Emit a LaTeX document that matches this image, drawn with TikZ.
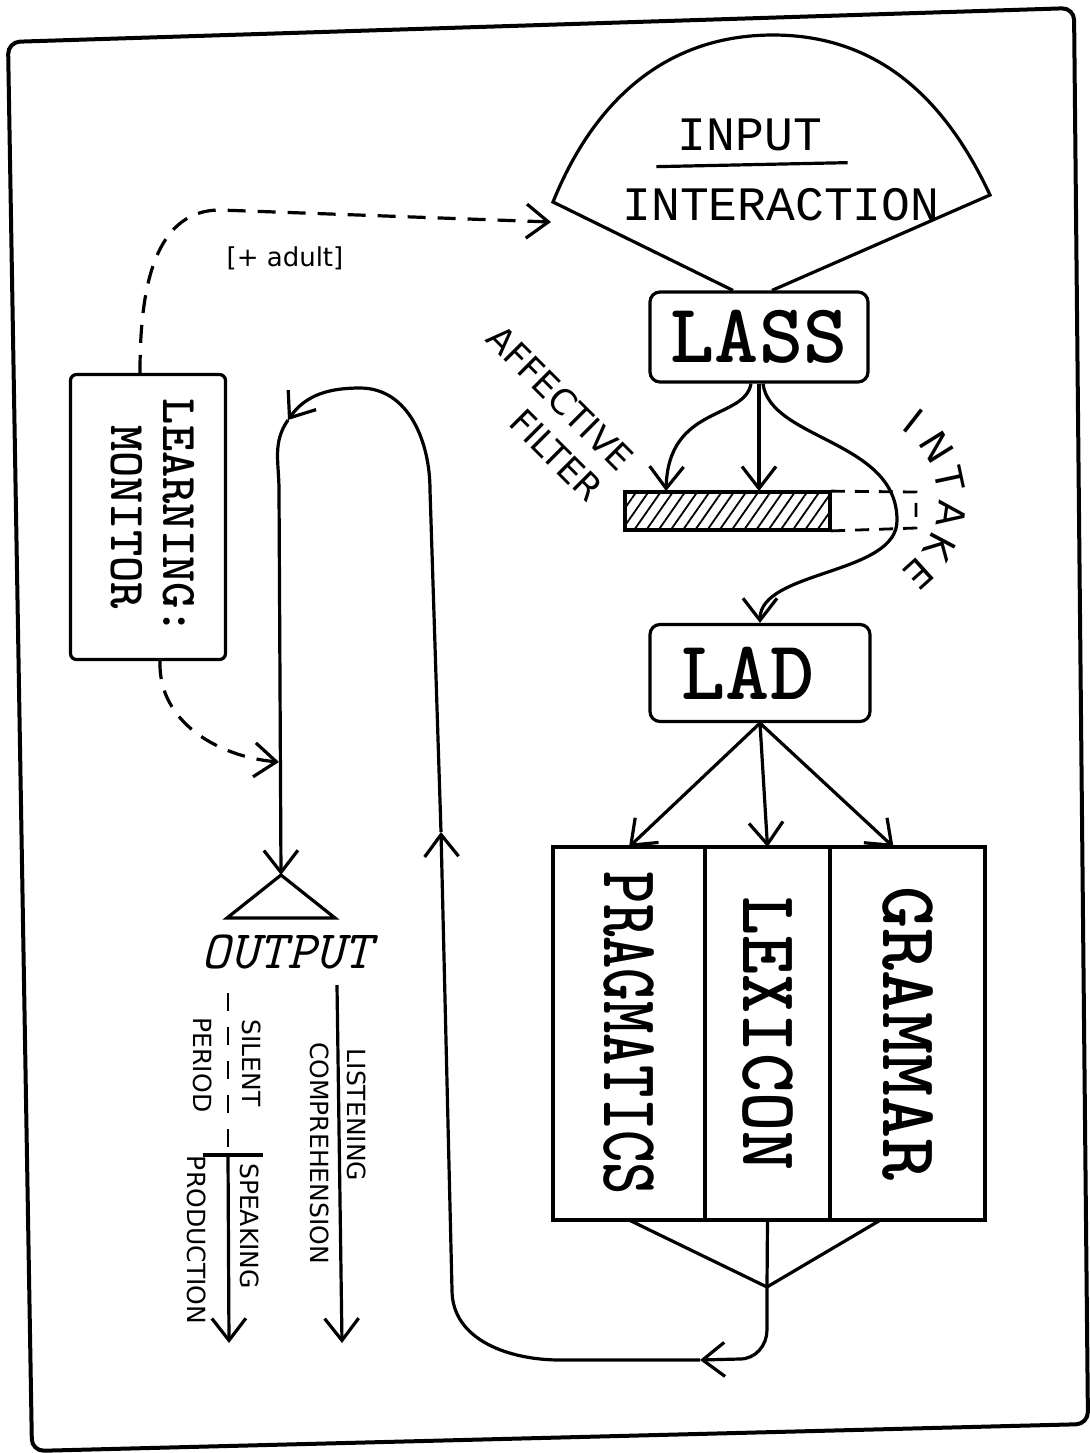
\documentclass[tikz,border=0pt]{standalone}
\usepackage{fontspec}
\usepackage{graphicx}
\usetikzlibrary{arrows.meta}
\usetikzlibrary{positioning}
\usetikzlibrary{patterns.meta}
\newfontfamily\typed{Liberation Mono}
\newfontfamily\hand{DejaVu Sans}

\begin{document}
\begin{tikzpicture}[x=0.5pt, y=0.5pt, line width=1.6pt,
  arr/.style={-{Straight Barb[length=11pt,width=17pt]}},
  dasharr/.style={arr, dash pattern=on 9pt off 6pt},
  box/.style={draw, rounded corners=5pt, inner sep=0pt},
  col/.style={draw, minimum height=186.5pt, inner sep=0pt, outer sep=0pt,
    font=\ttfamily\bfseries\fontsize{40}{40}\selectfont},
  bigtype/.style={font=\ttfamily\bfseries\fontsize{42}{42}\selectfont},
  midtype/.style={font=\typed\fontsize{24}{24}\selectfont},
  smallhand/.style={font=\hand\fontsize{12.5}{14}\selectfont, inner sep=0pt}]
\useasboundingbox (0,0) rectangle (1090,-1453);
\draw[line width=2pt, rounded corners=6pt] (8,-42) -- (1074,-8) -- (1088,-1424) -- (32,-1451) -- cycle;

\node[box, minimum width=109pt, minimum height=45pt, bigtype] (lass) at (759,-337) {LASS};
\node[box, minimum width=110pt, minimum height=48.5pt, bigtype] (lad) at (760,-673) {\hspace*{-12pt}LAD};
\node[box, rounded corners=3pt, minimum width=77.5pt, minimum height=142.5pt,
  font=\ttfamily\bfseries\fontsize{25}{26}\selectfont] (mon) at (148,-517)
  {\rotatebox{-90}{\begin{tabular}{@{}c@{}}LEARNING:\\MONITOR\end{tabular}}};

\draw ([xshift=-13pt]lass.north) -- (553,-202) to[out=68,in=180] (773,-35)
  to[out=0,in=115] (990,-195) -- ([xshift=6.5pt]lass.north);
\node[midtype, inner sep=2pt] (inpt) at (750,-135) {INPUT};
\draw ([xshift=-8pt,yshift=-5pt]inpt.south west) -- ([xshift=10pt,yshift=-3pt]inpt.south east);
\node[midtype] (inter) at (781,-205) {INTERACTION};

\node[draw, minimum width=102.5pt, minimum height=19pt, inner sep=0pt,
  pattern={Lines[angle=55,distance=5pt,line width=0.9pt]}] (filt) at (727.5,-511) {};
\draw[line width=1.4pt, dash pattern=on 7pt off 5pt] (filt.north east) -- (916,-492) -- (916,-528) -- (filt.south east);
\node[font=\hand\fontsize{17.5}{21.5}\selectfont, rotate=-45, align=right] (aff) at (545,-413) {AFFECTIVE\\FILTER};
\foreach \ch [count=\i] in {I,N,T,A,K,E}
  \path (852,-500) ++({72-20*\i}:100) node[font=\hand\fontsize{19}{19}\selectfont, rotate={-18-20*\i}] (intake\i) {\ch};

\draw[arr] ([xshift=-4pt]lass.south) .. controls (745,-420) and (668,-405) .. ([xshift=21pt]filt.north west);
\draw[arr] (lass.south) -- (lass.south |- filt.north);
\draw[arr] ([xshift=2pt]lass.south) .. controls (770,-440) and (897,-440) .. (897,-520)
  .. controls (898,-575) and (760,-570) .. (lad.north);

\node[col, minimum width=76pt] (prag) at (629,-1033.5) {\rotatebox{-90}{\scalebox{0.77}[1]{PRAGMATICS}}};
\node[col, minimum width=62.5pt, right=0pt of prag] (lex) {\rotatebox{-90}{\scalebox{0.93}[1]{LEXICON}}};
\node[col, minimum width=77.5pt, right=0pt of lex] (gram) {\rotatebox{-90}{GRAMMAR}};
\draw[arr] (lad.south) -- (prag.north);
\draw[arr] (lad.south) -- (lex.north);
\draw[arr] (lad.south) -- ([xshift=-7pt]gram.north);

\coordinate (joint) at (767,-1287);
\coordinate (lp1) at (700,-1360);
\coordinate (lp2) at (441,-832);
\coordinate (lp3) at (288,-420);
\coordinate (outtop) at (281,-875);
\coordinate (mt) at (279,-762);
\coordinate (fanl) at (551,-222);
\draw (prag.south) -- (joint) -- ([xshift=-13.5pt]gram.south);
\draw (lex.south) -- (joint);
\draw[arr] (joint) -- (767,-1330) to[out=-90,in=0] (740,-1359) -- (lp1);
\draw[arr] (lp1) -- (560,-1360) to[out=180,in=-90] (452,-1290) -- (lp2);
\draw[arr] (lp2) -- (430,-490) to[out=90,in=0] (360,-388) to[out=180,in=55] (lp3);
\draw[arr] (lp3) to[out=235,in=90] (279,-490) -- (outtop);

\draw[dasharr] ([xshift=-4pt]mon.north) to[out=90,in=180] (220,-210) -- (fanl);
\node[font=\hand\fontsize{13}{13}\selectfont] (adult) at (285,-258) {[+ adult]};
\draw[dasharr] ([xshift=6pt]mon.south) to[out=-92,in=175] (mt);

\draw (outtop) -- (227,-918) -- (335,-918) -- cycle;
\node[font=\ttfamily\itshape\fontsize{27}{27}\selectfont] (outl) at (287,-952) {OUTPUT};

\coordinate (ls) at (337,-985);
\coordinate (le) at (342,-1343);
\draw[arr] (ls) -- (le);
\node[smallhand, rotate=-90] (listen) at (357,-1115) {LISTENING};
\node[smallhand, rotate=-90] (compr) at (320,-1153) {COMPREHENSION};
\coordinate (ss) at (228,-993);
\coordinate (sm) at (228,-1155);
\coordinate (se) at (229,-1343);
\draw[line width=1.4pt, dash pattern=on 9pt off 8pt] (ss) -- (sm);
\draw ([xshift=-12.5pt]sm) -- ([xshift=17.5pt]sm);
\draw[arr] (sm) -- (se);
\node[smallhand, rotate=-90] (silent) at (252,-1063) {SILENT};
\node[smallhand, rotate=-90] (period) at (203,-1065) {PERIOD};
\node[smallhand, rotate=-90] (speak) at (250,-1226) {SPEAKING};
\node[smallhand, rotate=-90] (prod) at (197,-1240) {PRODUCTION};
\end{tikzpicture}
\end{document}
